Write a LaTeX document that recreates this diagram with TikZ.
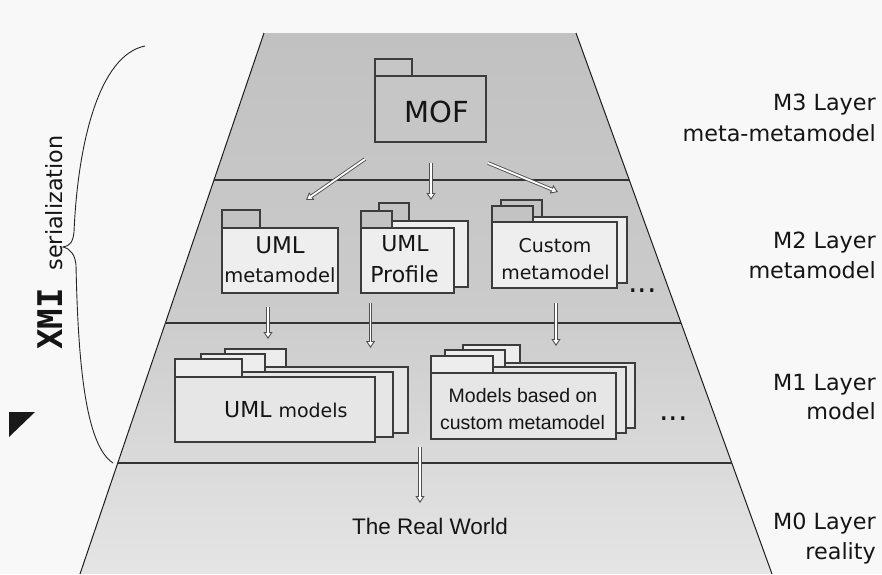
\documentclass[tikz,border=0pt]{standalone}
\usepackage{fontspec}
\setmainfont{DejaVu Sans}
\newfontfamily\dvfont{DejaVu Sans}
\newfontfamily\arfont{Liberation Sans}
\newfontfamily\monofont{DejaVu Sans Mono}
\usetikzlibrary{arrows.meta}
\definecolor{bgc}{HTML}{F8F8F8}
\definecolor{trapTop}{HTML}{C1C1C1}
\definecolor{trapMid}{HTML}{CBCBCB}
\definecolor{trapBot}{HTML}{E5E5E5}
\definecolor{pkline}{HTML}{3C3C3C}
\definecolor{mofc}{HTML}{C6C6C6}
\definecolor{tabd}{HTML}{C3C3C3}
\definecolor{bodyl}{HTML}{EEEEEE}
\definecolor{tabl}{HTML}{EDEDED}
\definecolor{mOneb}{HTML}{E6E6E6}
\definecolor{llc}{HTML}{333333}
\definecolor{elc}{HTML}{1E1E1E}
\definecolor{arrc}{HTML}{505050}
\definecolor{txtc}{HTML}{151515}
\newcommand\fsz[2]{\fontsize{#1}{#2}\selectfont}
\tikzset{
 pkl/.style={draw=pkline, line width=1.1pt},
 moftab/.style={pkl, fill=mofc},
 mofbody/.style={pkl, fill=mofc, rectangle, inner sep=0pt},
 mtwotab/.style={pkl, fill=tabd},
 mtwoback/.style={pkl, fill=bodyl},
 mtwobody/.style={pkl, fill=bodyl, rectangle, inner sep=0pt},
 monetab/.style={pkl, fill=tabl},
 moneback/.style={pkl, fill=mOneb},
 monebody/.style={pkl, fill=mOneb, rectangle, inner sep=0pt},
 layerline/.style={draw=llc, line width=1.3pt},
 edgeline/.style={draw=elc, line width=1pt},
 hollow/.style={draw=arrc, line width=3.6pt,
   -{Triangle[length=7pt,width=9pt,fill=white,line width=0.9pt]},
   postaction={draw=white, line width=1.8pt, arrows=-, shorten >=5pt}},
 txt/.style={inner sep=0pt, anchor=base, text=txtc},
 rlabel/.style={inner sep=0pt, anchor=base east, text=txtc, font=\dvfont\fsz{22.3}{22.3}},
}
\begin{document}
\begin{tikzpicture}[x=1pt,y=-1pt]
\useasboundingbox (0,0) rectangle (882,574);
\fill[bgc] (0,0) rectangle (882,574);

% trapezoid
\coordinate (TL) at (264,33);
\coordinate (TR) at (576,33);
\coordinate (BR) at (772,574);
\coordinate (BL) at (80,574);
\shade[top color=trapTop, bottom color=trapBot, middle color=trapMid] (TL) -- (TR) -- (BR) -- (BL) -- cycle;
\draw[edgeline] (TL) -- (BL);
\draw[edgeline] (TR) -- (BR);
\draw[layerline] (214,180) -- (629.3,180);
\draw[layerline] (165.4,323) -- (681.1,323);
\draw[layerline] (117.8,463) -- (731.8,463);

% brace and XMI label
\draw[draw=black!85, line width=0.9pt] (145,46) .. controls (100,55) and (78,140) .. (74,232)
  .. controls (73,242) and (70,246) .. (63,247)
  .. controls (71,249) and (75,255) .. (76,265)
  .. controls (78,360) and (85,445) .. (113,463);
\node[rotate=90, anchor=base west, inner sep=0pt, text=txtc] (xmi) at (62,350)
  {\monofont\bfseries\fsz{34}{34}XMI\hspace{18pt}\dvfont\mdseries\fsz{22.3}{22.3}serialization};
\fill[black!90] (9,412) -- (35,412) -- (9,437) -- cycle;

% M3: MOF
\draw[moftab] (375,59) rectangle (412,76);
\node[mofbody, minimum width=111pt, minimum height=66pt] (mof) at (430.5,109) {};
\node[txt, font=\dvfont\fsz{29}{29}] (mofl) at (436.5,122) {MOF};

% M2: UML metamodel
\draw[mtwotab] (222,210) rectangle (260,228);
\node[mtwobody, minimum width=116pt, minimum height=65pt] (umlmm) at (280,260.5) {};
\node[txt, font=\dvfont\fsz{23}{23}] (umlmma) at (280,253) {UML};
\node[txt, font=\dvfont\fsz{19.5}{19.5}] (umlmmb) at (280,282) {metamodel};

% M2: UML Profile
\draw[mtwotab] (379,203) rectangle (409,221);
\draw[mtwoback] (379,221) rectangle (468,287);
\draw[mtwotab] (361,211) rectangle (392,228);
\node[mtwobody, minimum width=93pt, minimum height=65pt] (prof) at (407.5,260.5) {};
\node[txt, font=\dvfont\fsz{22}{22}] (profa) at (405,251) {UML};
\node[txt, font=\dvfont\fsz{22}{22}] (profb) at (404.5,282) {Profile};

% M2: Custom metamodel
\draw[mtwotab] (501,200) rectangle (542,217);
\draw[mtwoback] (501,217) rectangle (627,283);
\draw[mtwotab] (492,206) rectangle (533,222);
\node[mtwobody, minimum width=125pt, minimum height=66pt] (cust) at (554.5,255) {};
\node[txt, font=\dvfont\fsz{19}{19}] (custa) at (555,252) {Custom};
\node[txt, font=\dvfont\fsz{19}{19}] (custb) at (555.5,279) {metamodel};
\node[inner sep=0pt, anchor=base west, text=txtc, font=\dvfont\fsz{30}{30}] (dotsa) at (628,292) {...};

% M1: UML models
\draw[monetab] (225,349) rectangle (286,367);
\draw[moneback] (225,367) rectangle (408,433);
\draw[monetab] (201,354) rectangle (265,372);
\draw[moneback] (201,372) rectangle (393,437);
\draw[monetab] (175,359) rectangle (242,377);
\node[monebody, minimum width=200pt, minimum height=65pt] (umlm) at (275,409.5) {};
\node[inner sep=0pt, anchor=base west, text=txtc] (umlml) at (224,417)
  {\dvfont\fsz{22}{22}UML \fsz{19}{19}models};

% M1: Models based on custom metamodel
\draw[monetab] (463,345) rectangle (520,363);
\draw[moneback] (463,363) rectangle (635,428);
\draw[monetab] (445,350) rectangle (505,367);
\draw[moneback] (445,367) rectangle (626,433);
\draw[monetab] (431,356) rectangle (493,373);
\node[monebody, minimum width=185pt, minimum height=66pt] (custm) at (523.5,406) {};
\node[txt, font=\arfont\fsz{19.5}{19.5}] (custma) at (523,402) {Models based on};
\node[txt, font=\arfont\fsz{19.5}{19.5}] (custmb) at (522.5,429) {custom metamodel};
\node[inner sep=0pt, anchor=base west, text=txtc, font=\dvfont\fsz{30}{30}] (dotsb) at (659,420) {...};

% M0
\node[txt, font=\arfont\fsz{22.5}{22.5}] (world) at (430,534) {The Real World};

% arrows
\coordinate (a1s) at (365,159); \coordinate (a1e) at (306,200);
\coordinate (a2s) at (431,163); \coordinate (a2e) at (431,200);
\coordinate (a3s) at (488,163); \coordinate (a3e) at (558,192);
\coordinate (b1s) at (268,307); \coordinate (b1e) at (268,339);
\coordinate (b2s) at (370.5,303); \coordinate (b2e) at (370.5,348);
\coordinate (b3s) at (556,303); \coordinate (b3e) at (556,346);
\coordinate (c1s) at (420,447); \coordinate (c1e) at (420,503);
\draw[hollow] (a1s) -- (a1e);
\draw[hollow] (a2s) -- (a2e);
\draw[hollow] (a3s) -- (a3e);
\draw[hollow] (b1s) -- (b1e);
\draw[hollow] (b2s) -- (b2e);
\draw[hollow] (b3s) -- (b3e);
\draw[hollow] (c1s) -- (c1e);

% right labels
\node[rlabel] (m3a) at (876,110) {M3 Layer};
\node[rlabel] (m3b) at (876,141) {meta-metamodel};
\node[rlabel] (m2a) at (876,248) {M2 Layer};
\node[rlabel] (m2b) at (876,278) {metamodel};
\node[rlabel] (m1a) at (876,390) {M1 Layer};
\node[rlabel] (m1b) at (876,419) {model};
\node[rlabel] (m0a) at (876,529) {M0 Layer};
\node[rlabel] (m0b) at (876,559) {reality};
\end{tikzpicture}
\end{document}
